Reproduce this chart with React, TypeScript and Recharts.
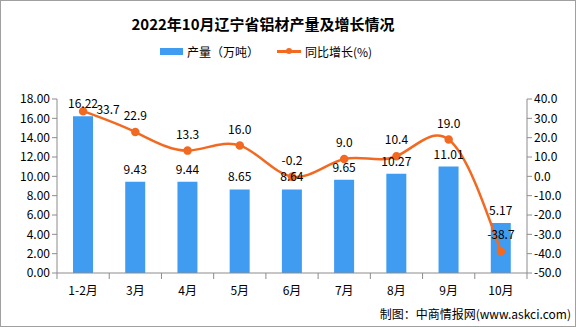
import React from 'react';
import {
  ComposedChart, Bar, Line, XAxis, YAxis, Legend, LabelList,
} from 'recharts';

const months = ['1-2月', '3月', '4月', '5月', '6月', '7月', '8月', '9月', '10月'];
const output = [16.22, 9.43, 9.44, 8.65, 8.64, 9.65, 10.27, 11.01, 5.17];
const growth = [33.7, 22.9, 13.3, 16.0, -0.2, 9.0, 10.4, 19.0, -38.7];
const leftTicks = [0, 2, 4, 6, 8, 10, 12, 14, 16, 18];
const rightTicks = [-50, -40, -30, -20, -10, 0, 10, 20, 30, 40];

const data = months.map((m, i) => ({ month: m, output: output[i], growth: growth[i] }));

const FONT = '"Noto Sans CJK SC", "DejaVu Sans", sans-serif';
const BLUE = '#3f9cf0';
const ORANGE = '#f26a21';
const AXIS = '#8c8c8c';

function MonthTick(props: any) {
  const { x, y, payload, index } = props;
  const half = 26.1;
  return (
    <g>
      <line x1={x - half} y1={y - 8} x2={x - half} y2={y - 2} stroke={AXIS} />
      {index === months.length - 1 && (
        <line x1={x + half} y1={y - 8} x2={x + half} y2={y - 2} stroke={AXIS} />
      )}
      <text x={x} y={y + 14} textAnchor="middle" fontSize={12} fill="#000" fontFamily={FONT}>
        {payload.value}
      </text>
    </g>
  );
}

function GrowthLabel(props: any) {
  const { x, y, value, index } = props;
  const dx = index === 0 ? 25 : 0;
  const dy = index === 0 ? 0 : -15;
  return (
    <text x={x + dx} y={y + dy} textAnchor="middle" dominantBaseline="middle" fontSize={12} fill="#000" fontFamily={FONT}>
      {value.toFixed(1)}
    </text>
  );
}

function LegendBox() {
  return (
    <div style={{ display: 'flex', alignItems: 'center', fontSize: 12, fontFamily: FONT, color: '#000' }}>
      <span style={{ display: 'inline-block', width: 23, height: 7, background: BLUE, marginLeft: 160, marginRight: 4 }} />
      <span>产量（万吨）</span>
      <span style={{ position: 'relative', display: 'inline-block', width: 24, height: 3, background: ORANGE, marginLeft: 18, marginRight: 4 }}>
        <span style={{ position: 'absolute', left: 9, top: -2, width: 6, height: 6, borderRadius: 3, background: ORANGE }} />
      </span>
      <span>同比增长(%)</span>
    </div>
  );
}

export default function App() {
  return (
    <div style={{ position: 'relative', width: 576, height: 327, background: '#fff', boxSizing: 'border-box', border: '1px solid #a0a0a0' }}>
      <style>{'body{margin:0}'}</style>
      <div style={{ position: 'absolute', left: 0, top: 12, width: 524, textAlign: 'center', fontSize: 15, fontWeight: 'bold', fontFamily: FONT, color: '#000' }}>
        2022年10月辽宁省铝材产量及增长情况
      </div>
      <div style={{ position: 'absolute', right: 4, top: 304, fontSize: 12, fontFamily: FONT, color: '#000' }}>
        制图：中商情报网(www.askci.com)
      </div>
      <div style={{ position: 'absolute', left: -1, top: -1 }}>
        <ComposedChart width={576} height={327} data={data} margin={{ top: 82, right: 0, left: 0, bottom: 34 }}>
          <Legend verticalAlign="top" align="left" content={<LegendBox />} wrapperStyle={{ top: 43, left: 0 }} />
          <XAxis dataKey="month" tickLine={false} tick={<MonthTick />} stroke={AXIS} height={20} interval={0} />
          <YAxis
            yAxisId="left"
            width={57}
            domain={[0, 18]}
            ticks={leftTicks}
            tickFormatter={(v: number) => v.toFixed(2)}
            stroke={AXIS}
            tick={{ fontSize: 12, fill: '#000', fontFamily: FONT }}
            tickSize={5}
            interval={0}
          />
          <YAxis
            yAxisId="right"
            orientation="right"
            width={49}
            domain={[-50, 40]}
            ticks={rightTicks}
            tickFormatter={(v: number) => v.toFixed(1)}
            stroke={AXIS}
            tick={{ fontSize: 12, fill: '#000', fontFamily: FONT }}
            tickSize={5}
            interval={0}
          />
          <Bar yAxisId="left" dataKey="output" fill={BLUE} barSize={20} isAnimationActive={false} name="产量（万吨）">
            <LabelList dataKey="output" position="top" offset={8} style={{ fontSize: 12, fill: '#000', fontFamily: FONT }} formatter={(v: number) => v.toFixed(2)} />
          </Bar>
          <Line
            yAxisId="right"
            type="natural"
            dataKey="growth"
            stroke={ORANGE}
            strokeWidth={2.5}
            dot={{ r: 3, fill: ORANGE, stroke: ORANGE }}
            activeDot={false}
            isAnimationActive={false}
            name="同比增长(%)"
          >
            <LabelList dataKey="growth" content={<GrowthLabel />} />
          </Line>
        </ComposedChart>
      </div>
    </div>
  );
}
